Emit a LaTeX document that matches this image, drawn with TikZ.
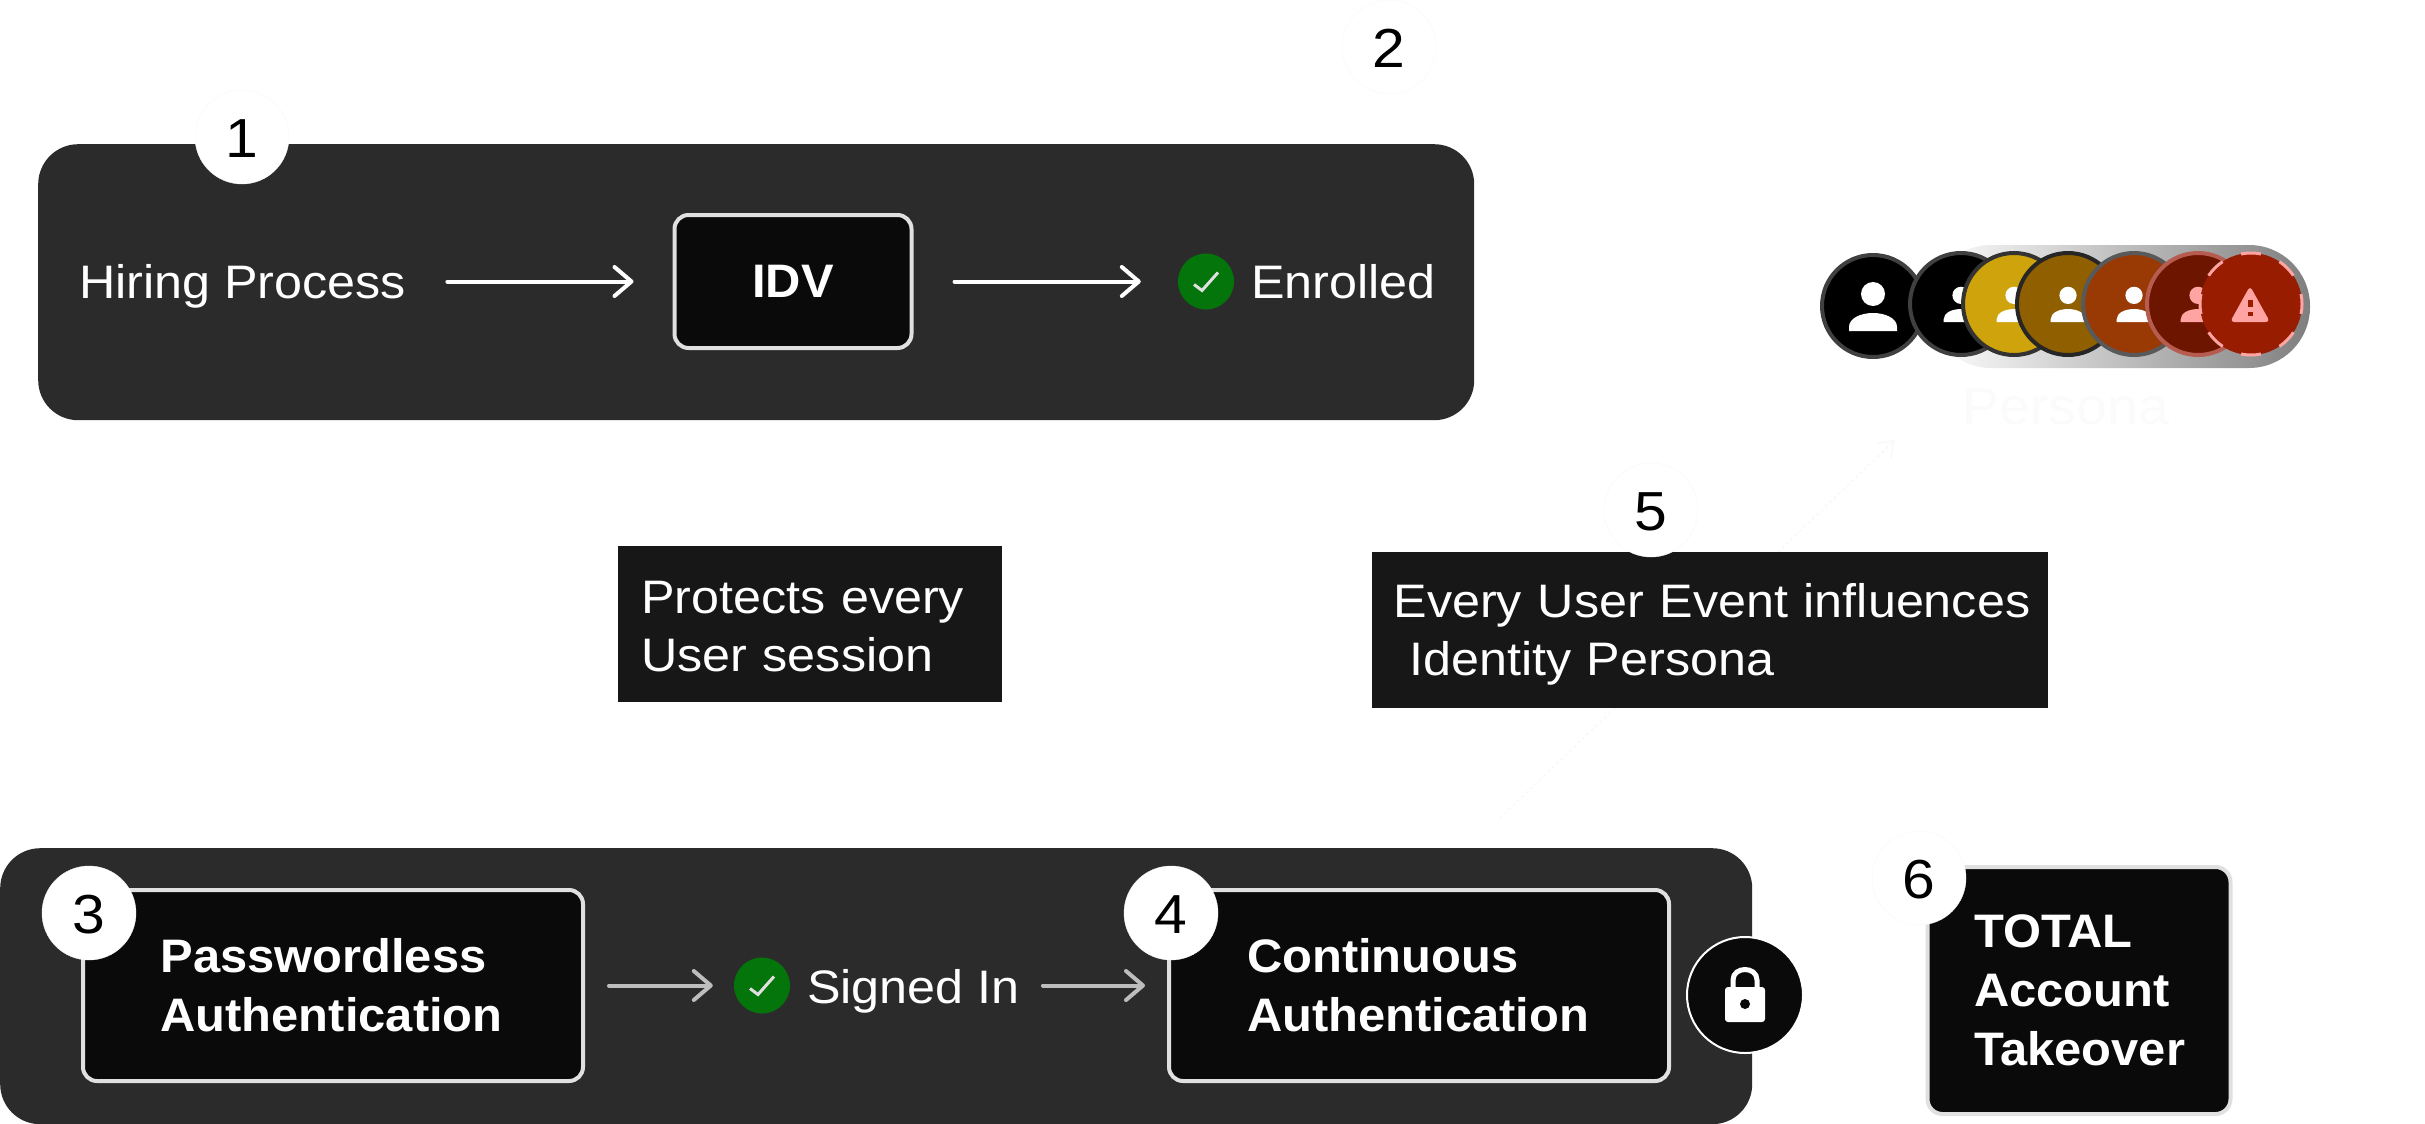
\documentclass[tikz,border=0pt]{standalone}
\usepackage{fontspec}
\setmainfont{Liberation Sans}[FakeStretch=1.07,BoldFeatures={FakeStretch=1.04}]
\usetikzlibrary{arrows.meta,positioning}
\definecolor{PanelGrey}{HTML}{2B2B2B}
\definecolor{BoxBlack}{HTML}{0A0A0A}
\definecolor{BoxEdge}{HTML}{E0E0E0}
\definecolor{LabelBlack}{HTML}{171717}
\definecolor{CheckGreen}{HTML}{04750A}
\definecolor{ArrowGrey}{HTML}{BDBDBD}
\definecolor{GhostGrey}{HTML}{F8F8F8}
\definecolor{PersonaGrey}{HTML}{FBFBFB}
\definecolor{PillMid}{HTML}{D8D8D8}
\definecolor{PillEnd}{HTML}{7F7F7F}
\definecolor{Gold}{HTML}{CFA30C}
\definecolor{Umber}{HTML}{8F5F00}
\definecolor{Rust}{HTML}{993A05}
\definecolor{Maroon}{HTML}{6E1500}
\definecolor{AlertRed}{HTML}{971C00}
\definecolor{AlertPink}{HTML}{FFA3A3}

\begin{document}
\begin{tikzpicture}[
  x=1pt,y=-1pt,
  panel/.style={fill=PanelGrey,rounded corners=40pt,inner sep=0pt,anchor=north west},
  flowbox/.style={draw=BoxEdge,fill=BoxBlack,line width=4pt,rounded corners=14pt,inner sep=0pt,align=left,text=white,font=\fontsize{47}{59}\selectfont\bfseries},
  notebox/.style={fill=LabelBlack,inner sep=0pt,align=left,text=white,font=\fontsize{47}{58}\selectfont},
  flowtext/.style={anchor=base west,inner sep=0pt,text=white,font=\fontsize{47}{58}\selectfont},
  numbadge/.style={circle,fill=white,draw=GhostGrey,minimum size=94pt,inner sep=0pt,text=black,text height=41pt,text depth=0pt,font=\fontsize{55}{55}\selectfont},
  checkdot/.style={circle,fill=CheckGreen,minimum size=56pt,inner sep=0pt},
  avatar/.style={circle,minimum size=102pt,inner sep=0pt,line width=4pt},
  arr/.style={-{Straight Barb[length=17pt,width=29pt,round]},line width=4pt,line cap=round,draw=white},
  greyarr/.style={arr,draw=ArrowGrey},
  ghostarr/.style={-{Straight Barb[length=14pt,width=20pt]},dashed,draw=GhostGrey,line width=1.5pt},
  person/.pic={
    \fill[pic actions] (0,-12) circle (12);
    \fill[pic actions] (-24,25) -- (-24,21) .. controls (-24,12) and (-12,7) .. (0,7) .. controls (12,7) and (24,12) .. (24,21) -- (24,25) -- cycle;
  },
  tick/.pic={
    \draw[BoxEdge,line width=3pt] (-12,3) -- (-4,9) -- (12,-9);
  }
]
\useasboundingbox (0,0) rectangle (2425,1124);

\node[panel,minimum width=1436pt,minimum height=276pt] (enrollpanel) at (38,144) {};
\node[panel,minimum width=1752pt,minimum height=276pt] (signinpanel) at (0,848) {};

\node[flowtext] (hiring) at (79,298) {Hiring Process};
\node[flowbox,minimum width=237pt,minimum height=133pt,align=center] (idv) at (793,281.5) {IDV};
\node[checkdot] (enrollcheck) at (1206,281.5) {};
\pic at (enrollcheck) {tick};
\node[flowtext] (enrolled) at (1251,298) {Enrolled};
\draw[arr,shorten <=41pt,shorten >=39pt] (hiring.east |- idv) -- (idv.west);
\draw[arr,shorten <=41pt,shorten >=37pt] (idv.east) -- (enrollcheck.west);

\node[flowbox,minimum width=500pt,minimum height=191pt,text width=345pt] (passbox) at (333,985.5) {Passwordless\\Authentication};
\node[flowbox,minimum width=500pt,minimum height=191pt,text width=344pt] (contbox) at (1419,985.5) {Continuous\\Authentication};
\node[checkdot] (signcheck) at (762,985.5) {};
\pic at (signcheck) {tick};
\node[flowtext] (signed) at (807,1003) {Signed In};
\draw[greyarr,shorten <=24pt,shorten >=21pt] (passbox.east) -- (signcheck.west);
\draw[greyarr,shorten <=23pt,shorten >=22pt] (signed.east |- contbox) -- (contbox.west);

\node[circle,fill=BoxBlack,draw=white,line width=2pt,minimum size=116pt,inner sep=0pt] (lockdot) at (1745,995) {};
\fill[white,rounded corners=3pt] (1725,987) rectangle (1765,1022);
\draw[white,line width=5pt] (1733,990) -- (1733,980) .. controls (1733,966) and (1757,966) .. (1757,980) -- (1757,990);
\fill[BoxBlack] (1745,1004) circle (5);

\node[flowbox,minimum width=303pt,minimum height=247pt,text width=210pt,rounded corners=15pt] (takeover) at (2079,990.5) {TOTAL\\Account\\Takeover};

\node[flowtext,text=PersonaGrey,font=\fontsize{52}{52}\selectfont] (persona) at (1962,424) {Persona};
\coordinate (ghostfrom) at (1500,818);
\coordinate (ghostto) at (1895,440);
\draw[ghostarr] (ghostfrom) -- (ghostto);

\node[notebox,minimum width=384pt,minimum height=156pt,text width=338pt] (protects) at (810,624) {\rule{0pt}{37pt}Protects every\\User session};
\node[notebox,minimum width=676pt,minimum height=156pt,text width=633pt] (everyevent) at (1710,630) {\rule{0pt}{43pt}\mbox{Every User Event influences}\\~Identity Persona};

\node[shade,left color=white,middle color=PillMid,right color=PillEnd,rounded corners=61pt,minimum width=380pt,minimum height=123pt,inner sep=0pt] (pill) at (2120,306.5) {};
\node[avatar,fill=black,draw=black!75] (p1) at (1873,306) {};
\pic[fill=white] at (p1) {person};
\node[avatar,fill=black,draw=black!75] (p2) at (1961,304) {};
\pic[fill=white,scale=.72] at (p2) {person};
\node[avatar,fill=Gold,draw=black!80] (p3) at (2014,304) {};
\pic[fill=white,scale=.72] at (p3) {person};
\node[avatar,fill=Umber,draw=black!85] (p4) at (2068,304) {};
\pic[fill=white,scale=.72] at (p4) {person};
\node[avatar,fill=Rust,draw=black!65] (p5) at (2134,304) {};
\pic[fill=white,scale=.72] at (p5) {person};
\node[avatar,fill=Maroon,draw=AlertPink!50!Maroon] (p6) at (2198,304) {};
\pic[fill=AlertPink,scale=.72] at (p6) {person};
\node[avatar,fill=AlertRed,draw=AlertPink,line width=3pt,dash pattern=on 20pt off 20.05pt,dash phase=10pt] (p7) at (2251,304) {};
\fill[AlertPink,rounded corners=4pt] (2250,286) -- (2270,322) -- (2230,322) -- cycle;
\fill[AlertRed] (2247.5,300) rectangle (2252.5,307);
\fill[AlertRed] (2247.5,312) rectangle (2252.5,316);

\node[numbadge] (n1) at (242,137) {1};
\node[numbadge] (n2) at (1389,47) {2};
\node[numbadge] (n3) at (89,913) {3};
\node[numbadge] (n4) at (1171,913) {4};
\node[numbadge] (n5) at (1651,510) {5};
\node[numbadge] (n6) at (1919,878) {6};
\end{tikzpicture}
\end{document}
